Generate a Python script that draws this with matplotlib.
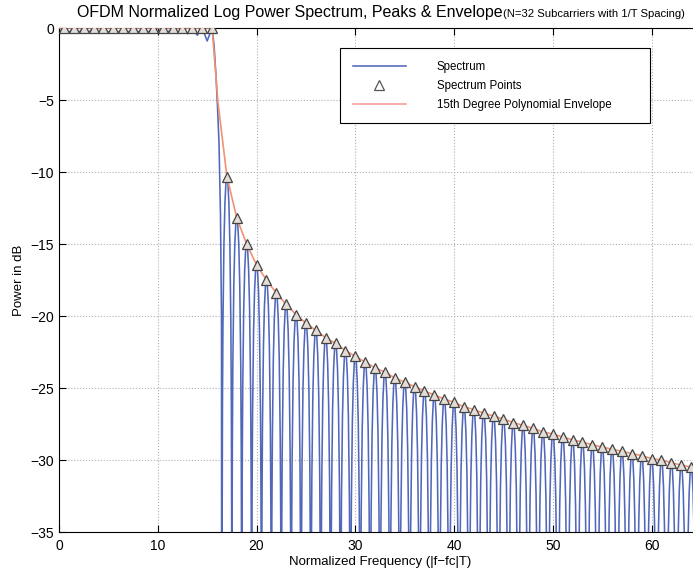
import numpy as np
import matplotlib.pyplot as plt

plt.rcParams['font.family'] = ['Liberation Sans', 'DejaVu Sans']

# passband: subcarrier peaks at half-integer frequencies, small dips in between
passband_freq = [0.5, 1.5, 2.5, 3.5, 4.5, 5.5, 6.5, 7.5, 8.5, 9.5, 10.5, 11.5, 12.5, 13.5, 14.5, 15.5]
passband_db = [0, 0, 0, 0, 0, 0, 0, 0, 0, 0, 0, 0, 0, 0, 0, 0]
dip_freq = [0, 1, 2, 3, 4, 5, 6, 7, 8, 9, 10, 11, 12, 13, 14, 15]
dip_db = [-0.3, -0.3, -0.3, -0.3, -0.3, -0.3, -0.3, -0.3, -0.3, -0.3, -0.3, -0.3, -0.35, -0.4, -0.5, -0.9]

# band edge roll-off (15.5 -> first null)
edge_freq = [15.5, 15.7, 15.9, 16.05, 16.2, 16.35, 16.45, 16.5]
edge_db = [0, -1.2, -3.4, -5.5, -8.0, -13.0, -20.0, -80.0]

# sidelobe peaks
sidelobe_freq = list(range(17, 66))
sidelobe_db = [-10.35, -13.2, -15.0, -16.45, -17.5, -18.4, -19.2, -19.9, -20.5, -21.0,
               -21.5, -21.9, -22.4, -22.8, -23.2, -23.6, -23.9, -24.3, -24.6, -24.9,
               -25.2, -25.5, -25.75, -26.0, -26.3, -26.5, -26.75, -26.95, -27.15, -27.4,
               -27.6, -27.8, -28.05, -28.2, -28.4, -28.6, -28.75, -28.95, -29.1, -29.25,
               -29.4, -29.55, -29.7, -29.9, -30.0, -30.2, -30.35, -30.5, -30.6]

# shape of one sidelobe relative to its peak (offset in freq, drop in dB)
lobe_offset = [-0.5, -0.48, -0.45, -0.4, -0.3, -0.2, -0.1, 0.0, 0.1, 0.2, 0.3, 0.4, 0.45, 0.48]
lobe_drop = [-80, -24, -16, -10.2, -4.6, -1.8, -0.4, 0.0, -0.4, -1.8, -4.6, -10.2, -16, -24]

# envelope (polynomial fit) follows the peaks
env_freq = [0, 15.5, 16.1, 17] + sidelobe_freq[1:]
env_db = [0, 0, -5.2, -10.3] + sidelobe_db[1:]

# build spectrum trace
spec_x, spec_y = [], []
for i in range(len(dip_freq)):
    spec_x += [dip_freq[i], passband_freq[i]]
    spec_y += [dip_db[i], passband_db[i]]
spec_x += edge_freq[1:]
spec_y += edge_db[1:]
for f, p in zip(sidelobe_freq, sidelobe_db):
    for o, d in zip(lobe_offset, lobe_drop):
        if f == 17 and o == -0.5:
            continue
        spec_x.append(f + o)
        spec_y.append(p + d)

fig = plt.figure(figsize=(6.93, 5.73), dpi=100)
ax = fig.add_axes([59 / 693, 41 / 573, 642 / 693, 504 / 573])

ax.plot(spec_x, spec_y, color='#5168ba', lw=1.15, label='Spectrum', zorder=2)
ax.plot(passband_freq + sidelobe_freq, passband_db + sidelobe_db, ls='none', marker='^',
        ms=7, mfc='#e4dcd6', mec='#444444', mew=0.9, label='Spectrum Points', zorder=4)
ax.plot(env_freq, env_db, color='#f29274', lw=1.2, label='15th Degree Polynomial Envelope', zorder=3)

ax.set_xlim(0, 65)
ax.set_ylim(-35, 0)
ax.set_xticks([0, 10, 20, 30, 40, 50, 60])
ax.set_yticks([0, -5, -10, -15, -20, -25, -30, -35])
ax.set_yticklabels(['0', '\u22125', '\u221210', '\u221215', '\u221220', '\u221225', '\u221230', '\u221235'])
ax.tick_params(direction='in', length=5, width=0.8, labelsize=10, top=True, right=True)
ax.tick_params(axis='x', pad=5)
ax.grid(True, ls=':', color='#b0b0b0', lw=0.8)
ax.set_axisbelow(True)
for s in ax.spines.values():
    s.set_linewidth(0.8)

ax.set_xlabel('Normalized Frequency (|f\u2212fc|T)', fontsize=9.5, labelpad=2)
ax.set_ylabel('Power in dB', fontsize=9.5, labelpad=4)

fig.text(77 / 693, 1 - 13 / 573, 'OFDM Normalized Log Power Spectrum, Peaks & Envelope',
         fontsize=11.5, ha='left', va='center')
fig.text(503 / 693, 1 - 14 / 573, '(N=32 Subcarriers with 1/T Spacing)',
         fontsize=8.1, ha='left', va='center')

leg = ax.legend(loc='upper left', bbox_to_anchor=(0.4377, 0.8115, 0.483, 0.1485), mode='expand',
                fontsize=8.3, handlelength=4.6, handletextpad=2.7, labelspacing=0.6,
                borderpad=1.1, fancybox=False, framealpha=1, edgecolor='black', borderaxespad=0)
leg.get_frame().set_linewidth(0.8)
leg.legend_handles[1].set_markerfacecolor('white')
leg.legend_handles[1].set_markeredgecolor('#555555')
leg.legend_handles[2].set_color('#f4a0a0')

fig.savefig('out.png', dpi=100)
